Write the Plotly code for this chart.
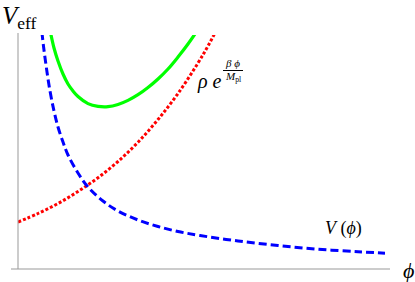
import plotly.graph_objects as go

# Values (arbitrary units; phi from the vertical axis, V above the horizontal axis)
blue_phi = [20, 24, 28, 32, 36, 40, 45, 50, 60, 70, 85, 100, 120, 140, 160, 182, 220, 260, 300, 340, 367]
blue_v   = [285, 236, 204, 178, 158, 142, 127, 114, 96, 82, 68, 58, 49, 42.5, 37.5, 33.5, 28, 23.5, 19.8, 17.3, 15.8]

red_phi = [0, 20, 40, 60, 80, 100, 120, 140, 160, 180, 190, 200, 210]
red_v   = [47, 55.5, 65.5, 77.5, 91.3, 107.5, 126.8, 149.5, 175.5, 206, 223, 242, 262]

green_phi = [28, 30, 32, 36, 40, 45, 50, 55, 60, 70, 80, 90, 100, 110, 120, 130, 140, 150, 160, 170, 180, 188]
green_v   = [262, 250, 239, 221, 208, 195, 185, 178, 172.5, 165.4, 162.6, 162.3, 164.5, 168.6, 174.3, 181.5, 190, 200, 212, 225, 239.5, 252]

W, H = 415, 282
L, R, T, B = 18, 25, 35, 13
PW, PH = W - L - R, H - T - B

def px(x):
    return (x - L) / PW

def py(y):
    return (H - B - y) / PH

fig = go.Figure()
fig.add_trace(go.Scatter(x=green_phi, y=green_v, mode="lines", line=dict(color="#00ff00", width=3.2, shape="spline")))
fig.add_trace(go.Scatter(x=red_phi, y=red_v, mode="lines", line=dict(color="#ff0000", width=3, dash="3px,2px", shape="spline")))
fig.add_trace(go.Scatter(x=blue_phi, y=blue_v, mode="lines", line=dict(color="#0000ff", width=3, dash="8px,4px", shape="spline")))

fig.update_layout(
    width=W, height=H, margin=dict(l=L, r=R, t=T, b=B),
    paper_bgcolor="white", plot_bgcolor="white", showlegend=False,
    xaxis=dict(range=[0, PW], visible=False, fixedrange=True),
    yaxis=dict(range=[0, PH], visible=False, fixedrange=True),
    font=dict(family="Liberation Serif", color="black"),
)

ax_col = "#999999"
fig.add_shape(type="line", xref="paper", yref="paper", x0=px(11), x1=px(390), y0=0, y1=0,
              line=dict(color=ax_col, width=1))
fig.add_shape(type="line", xref="paper", yref="paper", x0=0, x1=0, y0=0, y1=py(33),
              line=dict(color=ax_col, width=1))

def ann(text, x, y, size, xanchor="center"):
    fig.add_annotation(text=text, xref="paper", yref="paper", x=px(x), y=py(y), showarrow=False,
                       xanchor=xanchor, yanchor="middle", font=dict(size=size, family="Liberation Serif"))

ann("<i>V</i><sub>eff</sub>", 0, 17, 25, xanchor="left")
ann("<i>ϕ</i>", 408, 270, 22)
ann("<i>V</i> (<i>ϕ</i>)", 343, 228, 18)
ann("<i>ρ</i> <i>e</i>", 209, 81, 20)
ann("<i>β ϕ</i>", 232, 63, 11)
ann("<i>M</i><sub>pl</sub>", 233, 77, 11)
fig.add_shape(type="line", xref="paper", yref="paper", x0=px(223), x1=px(243), y0=py(70.5), y1=py(70.5),
              line=dict(color="black", width=1))

fig.write_html("out.html", config={"displayModeBar": False, "staticPlot": True},
               post_script="document.body.style.margin='0';document.body.style.overflow='hidden';")
